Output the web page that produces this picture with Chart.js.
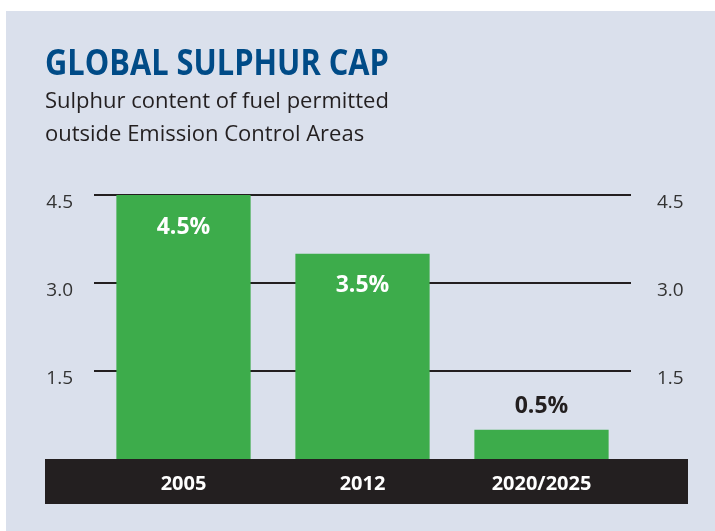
<!DOCTYPE html>
<html>
<head>
<meta charset="utf-8">
<script src="https://cdn.jsdelivr.net/npm/chart.js@4"></script>
<style>
  body { margin: 0; background: #fff; font-family: "Open Sans", sans-serif; }
  #panel { position: absolute; left: 6px; top: 11px; width: 709px; height: 520px; background: #dae0ec; }
  #wrap { position: absolute; left: 0; top: 0; width: 709px; height: 520px; }
  h1 { position: absolute; left: 39px; top: 33px; margin: 0; font: 700 35px/1 "Open Sans", sans-serif; color: #004b87; white-space: nowrap; transform: scaleX(0.88); transform-origin: left top; }
  p { position: absolute; left: 39px; top: 72px; margin: 0; font: 400 22px/33px "Open Sans", sans-serif; color: #231f20; }
</style>
</head>
<body>
<div id="panel">
  <div id="wrap"><canvas id="capChart"></canvas></div>
  <h1>GLOBAL SULPHUR CAP</h1>
  <p>Sulphur content of fuel permitted<br>outside Emission Control Areas</p>
</div>
<script>
const years = ["2005", "2012", "2020/2025"];
const sulphurCap = [4.5, 3.5, 0.5];
const yTicks = [1.5, 3.0, 4.5];

// black strip under the bars, carrying the year labels
const baseStrip = {
  id: "baseStrip",
  beforeDraw(chart) {
    const { ctx, chartArea } = chart;
    ctx.save();
    ctx.fillStyle = "#231f20";
    ctx.fillRect(chartArea.left - 49, chartArea.bottom, chartArea.right - chartArea.left + 106, 45);
    ctx.restore();
  },
};

const valueLabels = {
  id: "valueLabels",
  afterDatasetsDraw(chart) {
    const ctx = chart.ctx;
    const meta = chart.getDatasetMeta(0);
    ctx.save();
    ctx.font = "bold 23px 'Open Sans'";
    ctx.textAlign = "center";
    ctx.textBaseline = "middle";
    meta.data.forEach((bar, i) => {
      const v = sulphurCap[i];
      const inside = v >= 1;
      ctx.fillStyle = inside ? "#ffffff" : "#231f20";
      ctx.fillText(v.toFixed(1) + "%", bar.x, inside ? bar.y + 32 : bar.y - 23);
    });
    ctx.restore();
  },
};

const yTickOpts = {
  color: "#333333",
  font: { family: "Open Sans", size: 19 },
  labelOffset: 8,
  callback: (v) => v.toFixed(1),
};

new Chart(document.getElementById("capChart").getContext("2d"), {
  type: "bar",
  data: {
    labels: years,
    datasets: [
      {
        data: sulphurCap,
        backgroundColor: "#3dac4b",
        barPercentage: 0.75,
        categoryPercentage: 1,
      },
    ],
  },
  options: {
    responsive: true,
    maintainAspectRatio: false,
    animation: false,
    layout: { padding: { top: 184, left: 0, right: 0, bottom: 0 } },
    plugins: { legend: { display: false }, tooltip: { enabled: false } },
    scales: {
      x: {
        grid: { display: false },
        border: { display: false },
        ticks: { color: "#ffffff", font: { family: "Open Sans", size: 20, weight: "bold" }, padding: 5 },
        afterFit: (s) => { s.height = 72; },
      },
      y: {
        min: 0,
        max: 4.5,
        grid: { color: "#231f20", lineWidth: 2, drawTicks: false },
        border: { display: false },
        ticks: { ...yTickOpts, padding: 21 },
        afterBuildTicks: (s) => { s.ticks = yTicks.map((v) => ({ value: v })); },
        afterFit: (s) => { s.width = 88; },
      },
      y2: {
        position: "right",
        min: 0,
        max: 4.5,
        grid: { display: false, drawTicks: false },
        border: { display: false },
        ticks: { ...yTickOpts, padding: 26 },
        afterBuildTicks: (s) => { s.ticks = yTicks.map((v) => ({ value: v })); },
        afterFit: (s) => { s.width = 84; },
      },
    },
  },
  plugins: [baseStrip, valueLabels],
});
</script>
</body>
</html>
